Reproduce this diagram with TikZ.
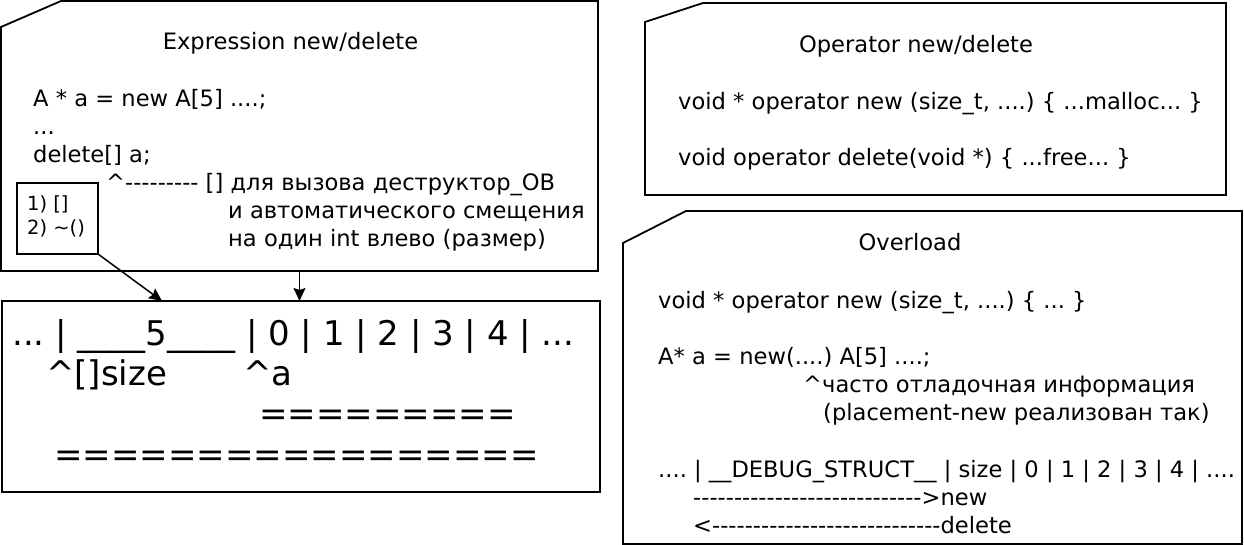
\documentclass[tikz,border=0pt]{standalone}
\usepackage{fontspec}
\newfontfamily\dvs{DejaVu Sans}
\usetikzlibrary{arrows.meta,calc}
\frenchspacing
\tikzset{
  frame/.style={inner sep=0pt, outer sep=0pt, draw=none},
  outline/.style={draw=black, line width=1.8pt},
  txt/.style={font=\dvs\frenchspacing\fontsize{22.6}{27}\selectfont, inner sep=0pt, anchor=base west},
  ttl/.style={txt, anchor=base},
  smalltxt/.style={font=\dvs\frenchspacing\fontsize{19.5}{23}\selectfont, inner sep=0pt, anchor=base west},
  bigtxt/.style={font=\dvs\frenchspacing\fontsize{34}{40}\selectfont, inner sep=0pt, anchor=base west},
  conn/.style={draw=black, line width=1.5pt, -{Stealth[length=13pt,width=12pt,inset=2pt]}}
}
\begin{document}
\begin{tikzpicture}[x=1pt,y=-1pt]
\useasboundingbox (0,0) rectangle (1244,545);
% frames
\node[frame, minimum width=597pt, minimum height=270pt] (expr) at (299.5,136) {};
\node[frame, outline, minimum width=598pt, minimum height=191pt] (mem) at (301,396.5) {};
\node[frame, minimum width=581pt, minimum height=192pt] (oper) at (935.5,99) {};
\node[frame, minimum width=619pt, minimum height=333pt] (over) at (932.5,377.5) {};
\node[frame, outline, minimum width=81pt, minimum height=71pt] (small) at (57.5,218.5) {};
\draw[outline] ([yshift=-26pt]expr.north west) -- ([xshift=60pt]expr.north west) -- (expr.north east) -- (expr.south east) -- (expr.south west) -- cycle;
\draw[outline] ([yshift=-19pt]oper.north west) -- ([xshift=58pt]oper.north west) -- (oper.north east) -- (oper.south east) -- (oper.south west) -- cycle;
\draw[outline] ([yshift=-32pt]over.north west) -- ([xshift=63pt]over.north west) -- (over.north east) -- (over.south east) -- (over.south west) -- cycle;
% connectors
\coordinate (memtip) at ($(mem.north west)+(160,0)$);
\draw[conn] (small.south east) -- (memtip);
\draw[conn] (expr.south) -- (expr.south |- mem.north);
% Expression box texts
\node[ttl] (e0) at (290.5,50) {Expression new/delete};
\node[txt] (e1) at (33,107) {A * a = new A[5] ....;};
\node[txt] (e2) at (33,135) {...};
\node[txt] (e3) at (33,163) {delete[] a;};
\node[txt] (e4) at (106,191) {\textasciicircum--------- [] для вызова деструктор\_ОВ};
\node[txt] (e5) at (228,219) {и автоматического смещения};
\node[txt] (e6) at (228,247) {на один int влево (размер)};
\node[smalltxt] (s1) at (27,211) {1) []};
\node[smalltxt] (s2) at (27,235) {2) \textasciitilde()};
% memory box texts
\node[bigtxt] (m1) at (12,345) {... | \_\_\_\_5\_\_\_\_ | 0 | 1 | 2 | 3 | 4 | ...};
\node[bigtxt] (m2) at (46,385) {\textasciicircum[]size};
\node[bigtxt] (m3) at (243,385) {\textasciicircum a};
\node[bigtxt] (m4) at (259,425) {=========};
\node[bigtxt] (m5) at (54,466) {=================};
% Operator box texts
\node[ttl] (o0) at (916,53) {Operator new/delete};
\node[txt] (o1) at (678,110) {void * operator new (size\_t, ....) \{ ...malloc... \}};
\node[txt] (o2) at (678,166) {void operator delete(void *) \{ ...free... \}};
% Overload box texts
\node[ttl] (v0) at (910,251) {Overload};
\node[txt] (v1) at (658,308) {void * operator new (size\_t, ....) \{ ... \}};
\node[txt] (v2) at (658,364) {A* a = new(....) A[5] ....;};
\node[txt] (v3) at (803,392) {\textasciicircum часто отладочная информация};
\node[txt] (v4) at (823,420) {(placement-new реализован так)};
\node[txt] (v5) at (658,477) {.... | \_\_DEBUG\_STRUCT\_\_ | size | 0 | 1 | 2 | 3 | 4 | ....};
\node[txt] (v6) at (693,505) {----------------------------{>}new};
\node[txt] (v7) at (693,533) {{<}----------------------------delete};
\end{tikzpicture}
\end{document}
